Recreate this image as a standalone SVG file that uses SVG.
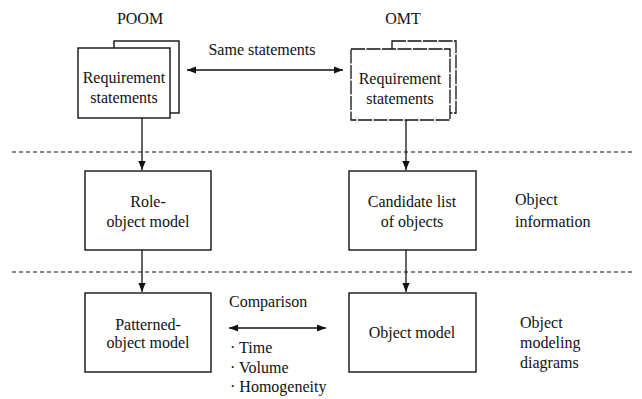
<svg xmlns="http://www.w3.org/2000/svg" width="642" height="399" viewBox="0 0 642 399">
<defs>
<style>
text{font-size:16px;fill:#111}
.c{text-anchor:middle}
.box{fill:#fff;stroke:#111;stroke-width:1.4}
.dbox{fill:#fff;stroke:#111;stroke-width:1.3;stroke-dasharray:14 1.5}
.ln{stroke:#111;stroke-width:1.3;fill:none}
.sep{stroke:#111;stroke-width:1.1;stroke-dasharray:4 3;fill:none}
</style>
<marker id="ah" viewBox="0 0 10 10" refX="10" refY="5" markerWidth="9" markerHeight="9" markerUnits="userSpaceOnUse" orient="auto-start-reverse">
<path d="M0,1 L10,5 L0,9 Z" fill="#111"/>
</marker>
</defs>
<rect width="642" height="399" fill="#fff"/>
<g id="separators">
<line class="sep" x1="12" y1="152" x2="632" y2="152"/>
<line class="sep" x1="12" y1="272" x2="632" y2="272"/>
</g>
<g font-family="Liberation Serif">
<g id="headers">
<text class="c" x="140" y="24">POOM</text>
<text class="c" x="403" y="24">OMT</text>
</g>
<g id="poom-req">
<rect class="box" x="114" y="41" width="65" height="72"/>
<rect class="box" x="78" y="48" width="92" height="70"/>
<text class="c" x="124" y="83">Requirement</text>
<text class="c" x="124" y="103">statements</text>
</g>
<g id="omt-req">
<rect class="dbox" x="392" y="41" width="64" height="72"/>
<rect class="dbox" x="351" y="49" width="99" height="71"/>
<text class="c" x="400" y="84">Requirement</text>
<text class="c" x="400" y="104">statements</text>
</g>
<g id="role-object">
<rect class="box" x="85" y="171" width="126" height="79"/>
<text class="c" x="148" y="207">Role-</text>
<text class="c" x="148" y="227">object model</text>
</g>
<g id="candidate-list">
<rect class="box" x="349" y="171" width="127" height="79"/>
<text class="c" x="412" y="207">Candidate list</text>
<text class="c" x="412" y="227">of objects</text>
</g>
<g id="patterned-object">
<rect class="box" x="85" y="293" width="126" height="79"/>
<text class="c" x="148" y="330">Patterned-</text>
<text class="c" x="148" y="348">object model</text>
</g>
<g id="object-model">
<rect class="box" x="349" y="293" width="127" height="79"/>
<text class="c" x="412" y="338">Object model</text>
</g>
<g id="labels">
<text class="c" x="262" y="55">Same statements</text>
<text x="229" y="307">Comparison</text>
<text x="230" y="353">· Time</text>
<text x="230" y="373">· Volume</text>
<text x="230" y="392">· Homogeneity</text>
<text x="515" y="205">Object</text>
<text x="515" y="227">information</text>
<text x="520" y="328">Object</text>
<text x="520" y="348">modeling</text>
<text x="520" y="368">diagrams</text>
</g>
</g>
<g id="connectors">
<line class="ln" x1="187" y1="70" x2="343" y2="70" marker-start="url(#ah)" marker-end="url(#ah)"/>
<line class="ln" x1="142" y1="118" x2="142" y2="170" marker-end="url(#ah)"/>
<line class="ln" x1="406" y1="120" x2="406" y2="170" marker-end="url(#ah)"/>
<line class="ln" x1="142" y1="250" x2="142" y2="292" marker-end="url(#ah)"/>
<line class="ln" x1="406" y1="250" x2="406" y2="292" marker-end="url(#ah)"/>
<line class="ln" x1="229" y1="328" x2="326" y2="328" marker-start="url(#ah)" marker-end="url(#ah)"/>
</g>
</svg>
